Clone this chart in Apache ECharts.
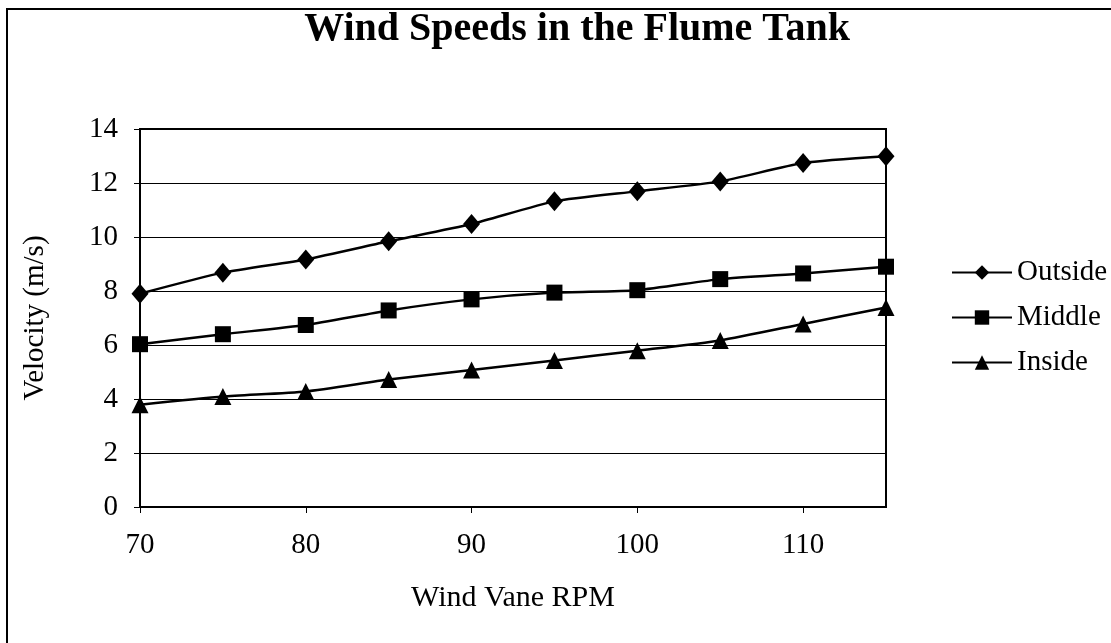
<!DOCTYPE html>
<html>
<head>
<meta charset="utf-8">
<script src="https://cdn.jsdelivr.net/npm/echarts@6/dist/echarts.min.js"></script>
<style>
html,body{margin:0;padding:0;background:#fff;}
#chart{width:1111px;height:643px;}
</style>
</head>
<body>
<div id="chart"></div>
<script>
var rpm = [70, 75, 80, 85, 90, 95, 100, 105, 110, 115];
var outside = [7.9, 8.68, 9.17, 9.84, 10.48, 11.32, 11.69, 12.06, 12.74, 12.99];
var middle = [6.03, 6.4, 6.74, 7.28, 7.69, 7.94, 8.03, 8.44, 8.65, 8.9];
var inside = [3.79, 4.09, 4.28, 4.72, 5.07, 5.43, 5.79, 6.17, 6.78, 7.39];
var yTicks = [0, 2, 4, 6, 8, 10, 12, 14];

var FONT = "'Liberation Serif', 'Times New Roman', serif";
function pairs(ys){ return rpm.map(function(x,i){ return [x, ys[i]]; }); }

var chart = echarts.init(document.getElementById('chart'));
function mk(name, ys, symbol, size){
  return {
    name: name, type: 'line', data: pairs(ys), smooth: 0.2,
    symbol: symbol, symbolSize: size,
    lineStyle: {color: '#000', width: 2.5},
    itemStyle: {color: '#000'},
    animation: false
  };
}
chart.setOption({
  backgroundColor: '#fff',
  animation: false,
  title: {
    text: 'Wind Speeds in the Flume Tank',
    left: 572, top: 5, textAlign: 'center',
    textStyle: {fontFamily: FONT, fontSize: 40, fontWeight: 'bold', color: '#000'}
  },
  graphic: [{
    type: 'rect', silent: true,
    shape: {x: 7, y: 9, width: 1120, height: 650},
    style: {fill: 'none', stroke: '#000', lineWidth: 2}
  }],
  legend: {
    orient: 'vertical', left: 946, top: 253, itemGap: 16,
    itemWidth: 60, itemHeight: 18,
    textStyle: {fontFamily: FONT, fontSize: 29, color: '#000', padding: [0, 0, 0, 0]},
    data: ['Outside', 'Middle', 'Inside']
  },
  grid: {left: 140, right: 225, top: 129, bottom: 136, show: true, borderColor: '#000', borderWidth: 2, backgroundColor: '#fff'},
  xAxis: {
    type: 'value', min: 70, max: 115, interval: 10,
    name: 'Wind Vane RPM', nameLocation: 'middle', nameGap: 76,
    nameTextStyle: {fontFamily: FONT, fontSize: 30, color: '#000'},
    axisLine: {show: true, lineStyle: {color: '#000', width: 2}},
    axisTick: {show: true, length: 6, lineStyle: {color: '#000'}},
    axisLabel: {fontFamily: FONT, fontSize: 29, color: '#000', margin: 24, showMaxLabel: false},
    splitLine: {show: false}
  },
  yAxis: {
    type: 'value', min: yTicks[0], max: yTicks[yTicks.length-1], interval: 2,
    name: 'Velocity (m/s)', nameLocation: 'middle', nameGap: 90,
    nameTextStyle: {fontFamily: FONT, fontSize: 29, color: '#000'},
    axisLine: {show: true, lineStyle: {color: '#000', width: 2}},
    axisTick: {show: true, length: 6, lineStyle: {color: '#000'}},
    axisLabel: {fontFamily: FONT, fontSize: 29, color: '#000', margin: 22},
    splitLine: {show: true, lineStyle: {color: '#000', width: 1}}
  },
  series: [
    mk('Outside', outside, 'diamond', [17, 20]),
    mk('Middle', middle, 'rect', 16),
    mk('Inside', inside, 'triangle', 17)
  ]
});
</script>
</body>
</html>
